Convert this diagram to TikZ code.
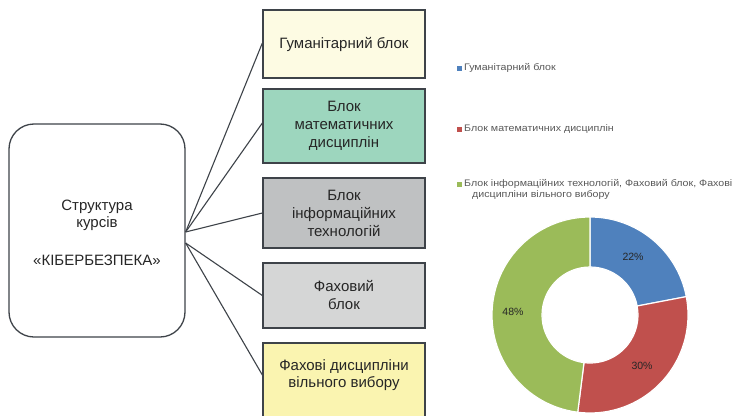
\documentclass[tikz,border=0pt]{standalone}
\usepackage{fontspec}
\setmainfont{Liberation Sans}
\usetikzlibrary{calc}
\definecolor{edge}{HTML}{3E4349}
\definecolor{txt}{HTML}{262626}
\definecolor{fillA}{HTML}{FDFBE3}
\definecolor{fillB}{HTML}{9DD6BE}
\definecolor{fillC}{HTML}{BFC1C2}
\definecolor{fillD}{HTML}{D5D6D6}
\definecolor{fillE}{HTML}{FAF4B0}
\definecolor{pieblue}{HTML}{4F81BD}
\definecolor{piered}{HTML}{C0504D}
\definecolor{piegreen}{HTML}{9BBB59}
\definecolor{legtxt}{HTML}{595959}
\begin{document}
\begin{tikzpicture}[x=1pt,y=-1pt,
  blockbox/.style={draw=edge, line width=1.3pt, minimum width=162pt, align=center,
    font=\fontsize{15}{18}\selectfont, text=txt, inner sep=0pt},
  conn/.style={draw=edge, line width=1.1pt},
  legsq/.style={minimum width=5pt, minimum height=5pt, inner sep=0pt},
  legtext/.style={anchor=west, inner sep=0pt, text=legtxt, xscale=1.12, transform shape,
    font=\fontsize{9.5}{10}\selectfont},
  pct/.style={text=txt, font=\fontsize{10.5}{12}\selectfont, inner sep=0pt}]
\useasboundingbox (0,0) rectangle (736,415);
\clip (0,0) rectangle (736,415);
\fill[white] (0,0) rectangle (736,415);

% central box
\node[draw=edge, line width=1.3pt, rounded corners=25pt, minimum width=176pt, minimum height=213pt,
  align=center, text=txt, font=\fontsize{15}{17.5}\selectfont, inner sep=0pt]
  (c) at (97,230.5) {};
\node[align=center, text=txt, font=\fontsize{15}{17.5}\selectfont, inner sep=0pt]
  (ct) at (97,233) {Структура\\курсів\\[20.5pt]«КІБЕРБЕЗПЕКА»};

% right blocks
\node[blockbox, fill=fillA, minimum height=68pt] (b1) at (344,44) {Гуманітарний блок};
\node[blockbox, fill=fillB, minimum height=74pt] (b2) at (344,126) {Блок\\математичних\\дисциплін};
\node[blockbox, fill=fillC, minimum height=70pt] (b3) at (344,213) {Блок\\інформаційних\\технологій};
\node[blockbox, fill=fillD, minimum height=65pt] (b4) at (344,295.5) {Фаховий\\блок};
\node[blockbox, fill=fillE, minimum height=80pt] (b5) at (344,383) {};
\node[align=center, text=txt, font=\fontsize{15}{17}\selectfont, inner sep=0pt]
  (t5) at (344,375) {Фахові дисципліни\\вільного вибору};

% connectors
\coordinate (cu) at ($(c.east)+(0,1.5)$);
\coordinate (cl) at ($(c.east)+(0,12.5)$);
\draw[conn] (cu) -- ($(b1.west)+(0,-1)$);
\draw[conn] (cu) -- ($(b2.west)+(0,-3)$);
\draw[conn] (cu) -- (b3.west);
\draw[conn] (cl) -- (b4.west);
\draw[conn] (cl) -- (b5.west |- t5);

% legend
\node[legsq, fill=pieblue] (s1) at (459,68) {};
\node[legtext] (l1) at (464,68) {Гуманітарний блок};
\node[legsq, fill=piered] (s2) at (459,129) {};
\node[legtext] (l2) at (464,129) {Блок математичних дисциплін};
\node[legsq, fill=piegreen] (s3) at (459,184) {};
\node[legtext] (l3) at (464,184) {Блок інформаційних технологій, Фаховий блок, Фахові};
\node[legtext] (l3b) at (472,194.5) {дисципліни вільного вибору};

% doughnut (y axis points down: parameter angle = -visual angle)
\begin{scope}[shift={(590,315)}]
  \coordinate (pc) at (0,0);
  \filldraw[fill=pieblue, draw=white, line width=1.2pt]
    (-90:98) arc[start angle=-90, end angle=-10.8, radius=98]
    -- (-10.8:48) arc[start angle=-10.8, end angle=-90, radius=48] -- cycle;
  \filldraw[fill=piered, draw=white, line width=1.2pt]
    (-10.8:98) arc[start angle=-10.8, end angle=97.2, radius=98]
    -- (97.2:48) arc[start angle=97.2, end angle=-10.8, radius=48] -- cycle;
  \filldraw[fill=piegreen, draw=white, line width=1.2pt]
    (97.2:98) arc[start angle=97.2, end angle=270, radius=98]
    -- (270:48) arc[start angle=270, end angle=97.2, radius=48] -- cycle;
\end{scope}
\node[pct] (p1) at (633,257) {22\%};
\node[pct] (p2) at (642,366) {30\%};
\node[pct] (p3) at (513,312) {48\%};
\end{tikzpicture}
\end{document}
